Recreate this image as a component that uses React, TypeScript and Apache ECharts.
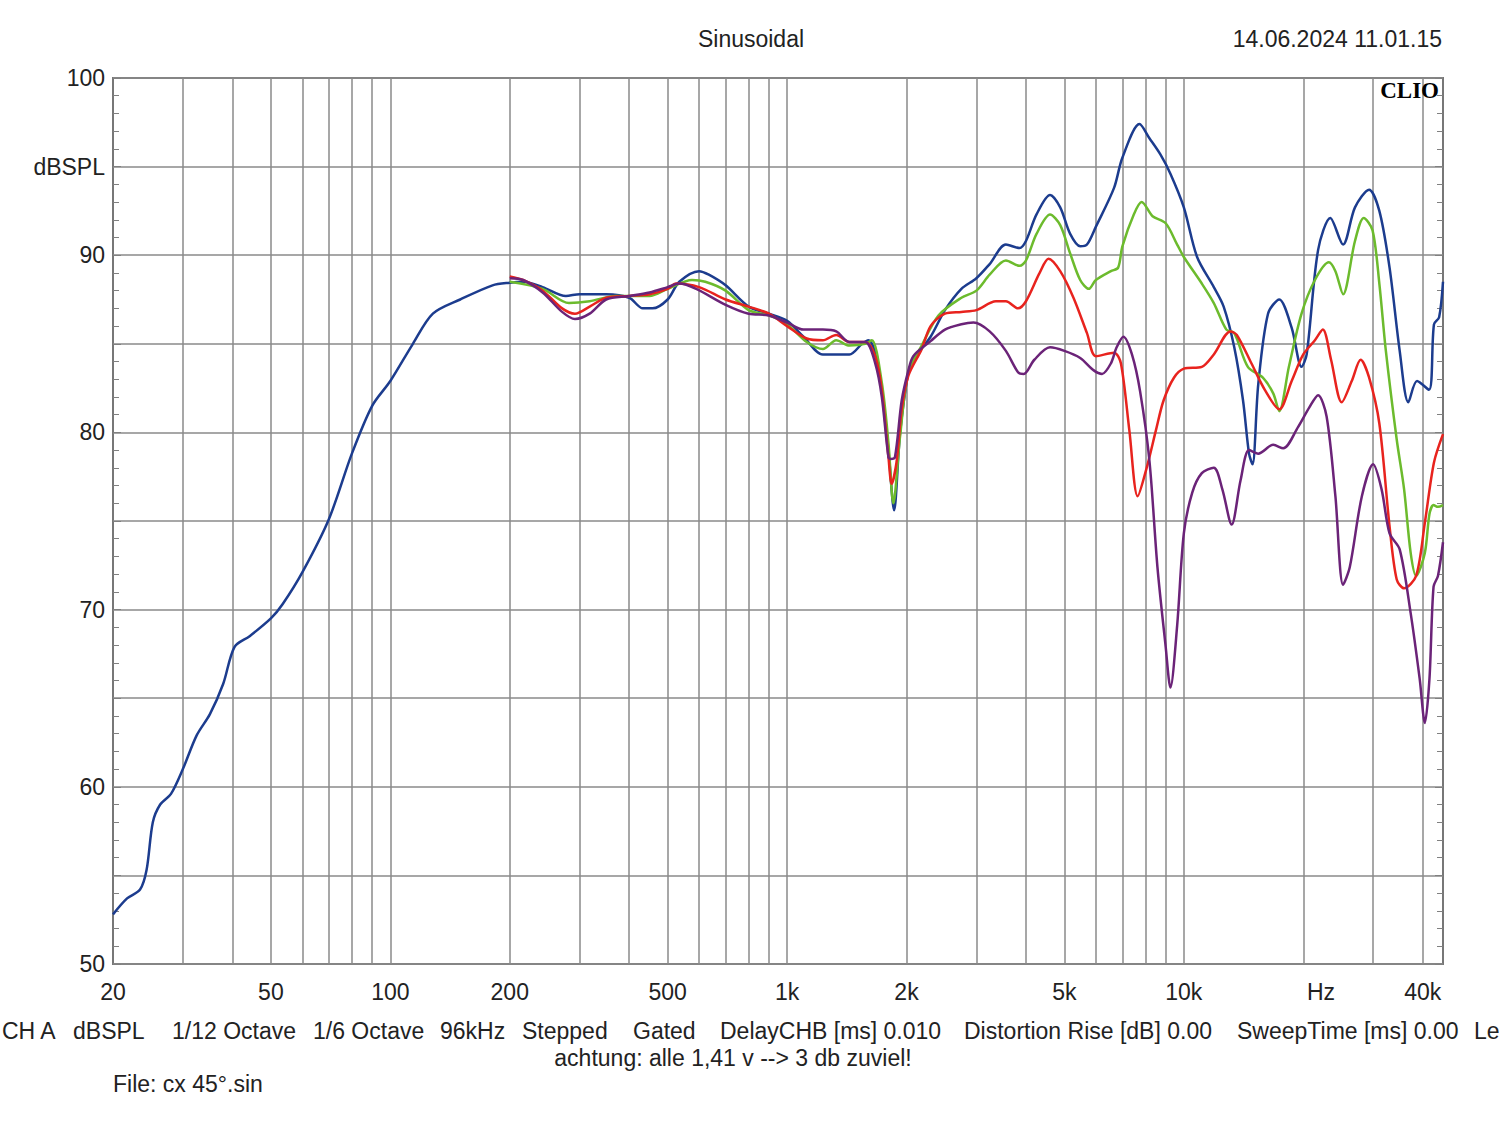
import React, { useEffect, useRef } from "react";
import * as echarts from "echarts";

const gridFreqs = [30, 40, 50, 60, 70, 80, 90, 100, 200, 300, 400, 500, 600, 700, 800, 900, 1000, 2000, 3000, 4000, 5000, 6000, 7000, 8000, 9000, 10000, 20000, 30000, 40000];
const labelFreqs = [20, 50, 100, 200, 500, 1000, 2000, 5000, 10000, 40000];
const labelTexts: Record<number, string> = { 20: "20", 50: "50", 100: "100", 200: "200", 500: "500", 1000: "1k", 2000: "2k", 5000: "5k", 10000: "10k", 40000: "40k" };

const blueFreq = [20, 21.7, 23.4, 24.3, 25.2, 26.3, 28, 30, 32.5, 35.1, 37.9, 40.5, 44.2, 50, 53.5, 60, 70, 80, 90, 100, 114, 128, 150, 181, 200, 216, 242, 277, 300, 350, 400, 433, 458, 500, 535, 600, 635, 700, 800, 900, 1000, 1100, 1231, 1436, 1545, 1604, 1668, 1733, 1801, 1861, 1927, 2022, 2080, 2300, 2500, 2750, 3000, 3240, 3560, 3855, 4000, 4253, 4600, 4880, 5170, 5480, 5700, 6000, 6670, 7000, 7730, 8190, 8720, 9250, 10000, 10800, 11900, 12600, 13400, 14100, 14600, 14900, 15400, 16300, 17400, 18700, 19800, 20400, 21800, 23400, 25200, 27000, 29300, 31100, 33000, 35000, 36800, 38700, 41500, 42700, 44000, 45000];
const blueDb = [52.8, 53.7, 54.2, 55.3, 58.0, 59.0, 59.6, 61.0, 62.9, 64.1, 65.8, 67.9, 68.5, 69.5, 70.3, 72.1, 75.1, 78.8, 81.5, 82.9, 85.0, 86.7, 87.5, 88.3, 88.45, 88.5, 88.2, 87.7, 87.8, 87.8, 87.6, 87.0, 87.0, 87.5, 88.5, 89.1, 88.9, 88.3, 87.1, 86.7, 86.3, 85.4, 84.4, 84.4, 85.0, 85.2, 84.5, 82.4, 79.0, 75.6, 80.0, 83.4, 84.1, 85.4, 86.9, 88.1, 88.7, 89.5, 90.6, 90.4, 90.8, 92.3, 93.4, 92.7, 91.2, 90.5, 90.6, 91.6, 93.8, 95.5, 97.4, 96.6, 95.7, 94.6, 92.7, 89.9, 88.2, 87.1, 84.8, 81.8, 78.8, 78.2, 82.7, 86.7, 87.5, 85.9, 83.7, 84.4, 90.3, 92.1, 90.6, 92.7, 93.7, 92.5, 89.3, 84.6, 81.7, 82.9, 82.4, 86.1, 86.5, 88.5];

const greenFreq = [200, 242, 282, 318, 370, 400, 450, 500, 576, 622, 700, 800, 900, 1000, 1121, 1231, 1330, 1436, 1574, 1636, 1733, 1801, 1853, 1927, 2022, 2184, 2407, 2750, 3000, 3240, 3560, 3855, 4000, 4253, 4600, 4880, 5170, 5480, 5760, 6000, 6550, 6830, 7000, 7480, 7830, 8340, 9000, 9620, 10000, 11100, 11900, 12800, 13400, 14500, 15800, 16800, 17400, 18400, 19800, 21400, 23200, 24100, 25200, 27000, 28400, 29900, 31100, 32300, 34400, 35900, 37300, 38500, 40500, 41600, 42600, 43700, 45000];
const greenDb = [88.5, 88.1, 87.3, 87.4, 87.7, 87.7, 87.7, 88.1, 88.6, 88.5, 88.0, 86.9, 86.6, 86.1, 85.1, 84.7, 85.2, 84.9, 85.0, 85.2, 82.8, 79.4, 76.0, 79.8, 83.4, 84.9, 86.6, 87.6, 88.0, 88.9, 89.7, 89.4, 89.7, 91.2, 92.3, 91.7, 90.1, 88.6, 88.1, 88.6, 89.1, 89.3, 90.5, 92.3, 93.0, 92.2, 91.8, 90.6, 89.9, 88.4, 87.3, 85.8, 85.6, 83.7, 83.1, 82.2, 81.2, 83.7, 86.7, 88.6, 89.6, 89.1, 87.8, 90.8, 92.1, 91.4, 88.4, 84.6, 79.6, 76.8, 73.2, 71.9, 73.2, 75.4, 75.9, 75.8, 75.9];

const redFreq = [200, 216, 242, 271, 292, 318, 350, 400, 450, 500, 525, 600, 700, 800, 900, 1000, 1121, 1231, 1330, 1436, 1574, 1668, 1733, 1801, 1835, 1887, 1945, 2022, 2184, 2300, 2500, 2750, 3000, 3360, 3560, 3820, 4000, 4330, 4560, 4880, 5270, 5700, 6000, 6670, 6940, 7290, 7650, 8060, 8500, 8890, 9450, 10000, 11100, 11900, 13100, 13600, 14800, 16000, 17400, 18700, 20000, 21400, 22400, 23500, 25000, 26500, 27900, 29300, 31100, 33000, 34400, 35900, 38500, 40500, 42700, 45000];
const redDb = [88.8, 88.6, 88.0, 87.0, 86.7, 87.1, 87.6, 87.7, 87.8, 88.1, 88.4, 88.2, 87.5, 87.1, 86.7, 86.0, 85.3, 85.2, 85.5, 85.1, 85.1, 84.3, 82.4, 78.6, 77.1, 78.3, 81.3, 83.2, 84.7, 86.0, 86.7, 86.8, 86.9, 87.4, 87.4, 87.0, 87.4, 89.0, 89.8, 89.1, 87.6, 85.6, 84.3, 84.5, 83.9, 80.1, 76.4, 78.0, 80.1, 81.8, 83.1, 83.6, 83.7, 84.4, 85.7, 85.5, 83.9, 82.4, 81.3, 82.9, 84.4, 85.2, 85.8, 84.1, 81.7, 82.9, 84.1, 83.1, 80.5, 74.7, 71.7, 71.2, 71.9, 74.9, 78.3, 79.9];

const purpleFreq = [200, 216, 242, 271, 292, 318, 350, 400, 450, 500, 535, 590, 700, 800, 900, 1000, 1100, 1231, 1330, 1436, 1574, 1668, 1733, 1801, 1825, 1870, 1945, 2022, 2080, 2300, 2500, 2750, 2950, 3240, 3560, 3820, 3950, 4200, 4600, 5000, 5480, 5930, 6220, 6550, 6770, 7040, 7400, 7760, 8190, 8580, 9000, 9250, 9620, 10000, 10500, 11100, 11900, 12500, 13200, 13900, 14600, 15400, 16800, 17800, 19400, 20700, 21800, 22900, 24100, 25200, 26200, 28100, 30000, 31500, 33000, 35000, 37300, 39300, 40500, 41600, 42600, 43700, 45000];
const purpleDb = [88.7, 88.6, 87.9, 86.8, 86.4, 86.7, 87.5, 87.7, 87.9, 88.2, 88.4, 88.1, 87.2, 86.7, 86.6, 86.2, 85.8, 85.8, 85.7, 85.1, 85.1, 83.9, 82.0, 78.6, 78.5, 78.6, 81.8, 83.5, 84.3, 85.15, 85.8, 86.1, 86.2, 85.7, 84.6, 83.4, 83.3, 84.1, 84.8, 84.6, 84.2, 83.5, 83.3, 83.9, 84.8, 85.4, 84.4, 82.3, 78.4, 72.4, 67.9, 65.6, 69.1, 74.3, 76.6, 77.7, 78.0, 76.8, 74.8, 77.3, 79.0, 78.8, 79.3, 79.1, 80.3, 81.4, 82.1, 80.9, 76.4, 71.4, 72.4, 76.4, 78.2, 76.8, 74.3, 73.4, 69.8, 66.1, 63.6, 66.1, 71.3, 71.9, 73.8];

const FONT = "'Liberation Sans', Arial, sans-serif";
const TXT = "#222";

function pts(f: number[], d: number[]) {
  return f.map((v, i) => [Math.log10(v), d[i]]);
}

function line(name: string, color: string, f: number[], d: number[]) {
  return {
    name,
    type: "line",
    data: pts(f, d),
    showSymbol: false,
    smooth: 0.3,
    lineStyle: { color, width: 2.5 },
    itemStyle: { color },
  };
}

function text(t: string, x: number, y: number, align = "left", extra: any = {}) {
  return {
    type: "text",
    x,
    y,
    style: { text: t, fill: TXT, font: `23px ${FONT}`, textAlign: align, textVerticalAlign: "middle", ...extra },
  };
}

export default function App() {
  const ref = useRef<HTMLDivElement>(null);
  useEffect(() => {
    if (!ref.current) return;
    const chart = echarts.init(ref.current, null, { renderer: "svg" });
    const yAxisBase = {
      type: "value",
      min: 50,
      max: 100,
      interval: 5,
      axisLine: { show: false },
      axisTick: { show: true, inside: true, length: 8, lineStyle: { color: "#808080", width: 1 } },
      minorTick: { show: true, splitNumber: 5, length: 6, lineStyle: { color: "#808080", width: 1 } },
      minorSplitLine: { show: false },
    };
    chart.setOption({
      animation: false,
      backgroundColor: "#ffffff",
      grid: { left: 113, top: 78, right: 57, bottom: 157, show: true, borderColor: "#777777", borderWidth: 2, backgroundColor: "transparent" },
      xAxis: {
        type: "value",
        min: Math.log10(20),
        max: Math.log10(45000),
        axisLine: { show: false },
        axisTick: { show: false, customValues: gridFreqs.map((f) => Math.log10(f)) },
        splitLine: { show: true, lineStyle: { color: "#8a8a8a", width: 1.5 } },
        axisLabel: {
          customValues: labelFreqs.map((f) => Math.log10(f)),
          formatter: (v: number) => labelTexts[Math.round(Math.pow(10, v))] ?? "",
          color: TXT,
          fontSize: 23,
          fontFamily: FONT,
          margin: 16,
          showMinLabel: true,
          showMaxLabel: true,
        },
      },
      yAxis: [
        {
          ...yAxisBase,
          position: "left",
          splitLine: { show: true, lineStyle: { color: "#8a8a8a", width: 1.5 } },
          axisLabel: {
            formatter: (v: number) => (v % 10 === 0 ? String(v) : v === 95 ? "dBSPL" : ""),
            color: TXT,
            fontSize: 23,
            fontFamily: FONT,
            margin: 8,
          },
        },
        {
          ...yAxisBase,
          position: "right",
          splitLine: { show: false },
          axisLabel: { show: false },
        },
      ],
      graphic: [
        text("Sinusoidal", 751, 39, "center"),
        text("14.06.2024 11.01.15", 1442, 39, "right"),
        {
          type: "text",
          x: 1439,
          y: 90,
          z: 10,
          style: { text: "CLIO", fill: "#000", font: `bold 23px 'Liberation Serif', 'DejaVu Serif', serif`, textAlign: "right", textVerticalAlign: "middle" },
        },
        text("Hz", 1321, 992, "center"),
        text("CH A", 2, 1031),
        text("dBSPL", 73, 1031),
        text("1/12 Octave", 172, 1031),
        text("1/6 Octave", 313, 1031),
        text("96kHz", 440, 1031),
        text("Stepped", 522, 1031),
        text("Gated", 633, 1031),
        text("DelayCHB [ms] 0.010", 720, 1031),
        text("Distortion Rise [dB] 0.00", 964, 1031),
        text("SweepTime [ms] 0.00", 1237, 1031),
        text("Le", 1474, 1031),
        text("achtung: alle 1,41 v --> 3 db zuviel!", 733, 1058, "center"),
        text("File: cx 45°.sin", 113, 1084),
      ],
      series: [
        line("blue", "#1c3c8e", blueFreq, blueDb),
        line("green", "#6cbb2d", greenFreq, greenDb),
        line("red", "#e8231e", redFreq, redDb),
        line("purple", "#6b2378", purpleFreq, purpleDb),
      ],
    });
    return () => chart.dispose();
  }, []);
  return (
    <div
      ref={ref}
      style={{ position: "absolute", left: 0, top: 0, width: 1500, height: 1121, background: "#fff", overflow: "hidden" }}
    />
  );
}
